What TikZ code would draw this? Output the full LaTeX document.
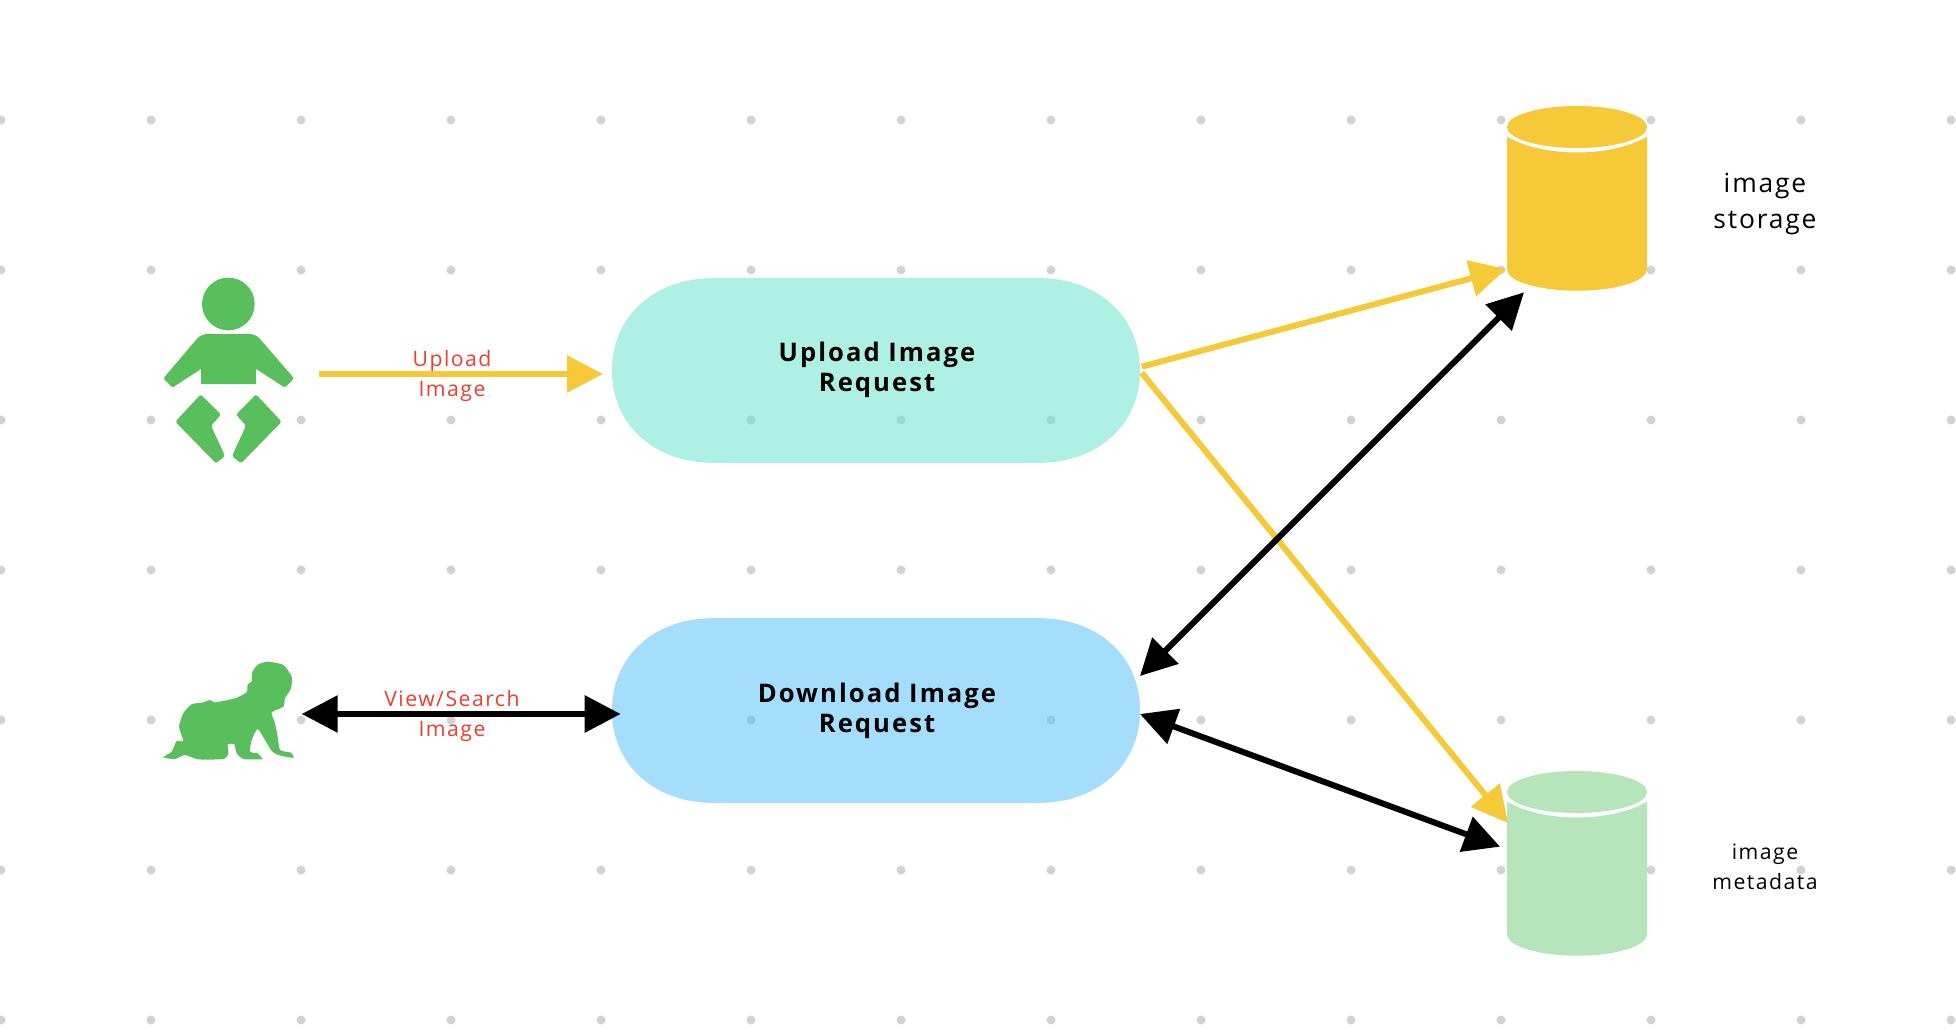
\documentclass[tikz,border=0pt]{standalone}
\usepackage{fontspec}
\usetikzlibrary{arrows.meta}
\setmainfont{Open Sans}
\newfontfamily\pillfont[LetterSpace=8]{Open Sans}
\newfontfamily\redfont[LetterSpace=7]{Open Sans}
\newfontfamily\labfont[LetterSpace=7]{Open Sans}
\definecolor{ygold}{HTML}{F5C937}
\definecolor{mintc}{HTML}{AFF0E4}
\definecolor{bluec}{HTML}{A5DDFC}
\definecolor{greenc}{HTML}{58BF5C}
\definecolor{lgreen}{HTML}{B6E4BB}
\definecolor{dotc}{HTML}{D2D2D2}
\definecolor{redc}{HTML}{EA3F2F}
\definecolor{mintdot}{HTML}{9BDACF}
\definecolor{bluedot}{HTML}{8FC7E6}
\tikzset{
  griddot/.style={fill=dotc},
  yarrow/.style={draw=ygold,line width=3pt,-{Triangle[length=18pt,width=18pt]}},
  barrow/.style={draw=black,line width=3pt,{Triangle[length=18pt,width=18pt]}-{Triangle[length=18pt,width=18pt]}},
  pilltext/.style={inner sep=0pt,minimum width=264pt,minimum height=92pt,align=center,text=black,font=\pillfont\bfseries\fontsize{12.8}{15}\selectfont},
  redlabel/.style={inner sep=0pt,align=center,text=redc,font=\redfont\fontsize{10.6}{15}\selectfont},
  dblabel/.style={inner sep=0pt,align=center,text=black},
}
\newcommand{\pillpath}[2]{%
  \fill[#2,shift={(#1)}] (-264,0) .. controls (-264,-48) and (-232,-80) .. (-190,-89.5)
    .. controls (-176,-92.5) and (-165,-92.5) .. (-150,-92.5) -- (150,-92.5)
    .. controls (165,-92.5) and (176,-92.5) .. (190,-89.5)
    .. controls (232,-80) and (264,-48) .. (264,0)
    .. controls (264,48) and (232,80) .. (190,89.5)
    .. controls (176,92.5) and (165,92.5) .. (150,92.5) -- (-150,92.5)
    .. controls (-165,92.5) and (-176,92.5) .. (-190,89.5)
    .. controls (-232,80) and (-264,48) .. (-264,0) -- cycle;}
\newcommand{\cylpath}[2]{%
  \fill[#2,shift={(0,#1)}] (1507,136.7) .. controls (1525,147) and (1550,152.5) .. (1577,152.5)
    .. controls (1604,152.5) and (1629,147) .. (1647,136.7) -- (1647,269.3)
    .. controls (1647,281) and (1616,290.7) .. (1577,290.7)
    .. controls (1538,290.7) and (1507,281) .. (1507,269.3) -- cycle;
  \fill[#2,shift={(0,#1)}] (1577,127) ellipse [x radius=70,y radius=21];}
\begin{document}
\begin{tikzpicture}[x=0.5pt,y=-0.5pt]
\useasboundingbox (0,0) rectangle (1956,1032);
\fill[white] (0,0) rectangle (1956,1032);
% grid
\foreach \gy in {120,270,420,570,720,870,1020}
  \foreach \gx in {1,151,301,451,601,751,901,1051,1201,1351,1501,1651,1801,1951}
    \fill[griddot] (\gx,\gy) circle [radius=4.5];
% pills
\pillpath{876,370.5}{mintc}
\pillpath{876,710.5}{bluec}
\foreach \gx in {751,901,1051} {
  \fill[mintdot] (\gx,420) circle [radius=4.5];
  \fill[bluedot] (\gx,720) circle [radius=4.5];
}
\node[pilltext] (upload) at (876,370.5) {};
\node[pilltext] (download) at (876,710.5) {};
\node[pilltext,minimum width=0pt,minimum height=0pt] (uploadtxt) at (877,370) {Upload Image\\Request};
\node[pilltext,minimum width=0pt,minimum height=0pt] (downloadtxt) at (877,711) {Download Image\\Request};
% cylinders
\cylpath{0}{ygold}
\cylpath{665}{lgreen}
% baby 1
\begin{scope}[shift={(130,250)},x=0.1667pt,y=-0.1667pt]
  \fill[greenc] (295,162) circle [radius=79];
  \fill[greenc,rounded corners=3pt] (213,252) -- (377,252)
     [rounded corners=0.8pt] -- (492,385) -- (465,413)
     [sharp corners] -- (380,358) -- (378,358) -- (378,402) -- (213,402) -- (213,358) -- (211,358)
     [rounded corners=0.8pt] -- (127,413) -- (100,385)
     [rounded corners=3pt] -- cycle;
  \fill[greenc,rounded corners=1.2pt] (212,433) -- (273,494) -- (243,527) -- (285,618) -- (258,640) -- (136,515) -- cycle;
  \fill[greenc,rounded corners=1.2pt] (378,433) -- (455,515) -- (333,640) -- (306,618) -- (348,527) -- (318,494) -- cycle;
\end{scope}
% baby 2
\begin{scope}[shift={(155,655)},x=0.1667pt,y=-0.1667pt]
  \fill[greenc] plot[smooth cycle,tension=0.35] coordinates {
   (340,20) (385,30) (410,65) (408,100) (390,130) (385,155) (350,172) (360,205) (368,245) (375,285)
   (408,293) (416,308) (398,306) (370,300) (350,288) (330,255) (308,222) (290,255) (285,290)
   (308,295) (322,312) (300,313) (265,312) (245,295) (238,268) (218,268) (220,295) (205,312)
   (130,313) (90,300) (60,312) (25,307) (50,290) (65,258) (85,258) (72,215) (85,175) (110,148)
   (145,142) (165,135) (180,142) (240,130) (275,112) (278,88) (290,80) (292,50) (310,28)};
\end{scope}
% connector ends
\coordinate (upstart) at (319,374);
\coordinate (upend) at (603,374);
\coordinate (viewa) at (301.7,714);
\coordinate (viewb) at (620.7,714);
\coordinate (upa) at (1141.7,366.7);
\coordinate (stin) at (1506,269);
\coordinate (upb) at (1141.7,372.7);
\coordinate (mdin) at (1508,823);
\coordinate (dla) at (1140,676);
\coordinate (stout) at (1524,292.3);
\coordinate (dlb) at (1140,714);
\coordinate (mdout) at (1500,846.7);
% connectors
\draw[yarrow] (upstart) -- (upend);
\draw[yarrow] (upa) -- (stin);
\draw[yarrow] (upb) -- (mdin);
\draw[barrow] (viewa) -- (viewb);
\draw[barrow] (dla) -- (stout);
\draw[barrow] (dlb) -- (mdout);
% labels
\node[redlabel] (uplabel) at (452,375.5) {Upload\\Image};
\node[redlabel] (viewlabel) at (452,715.5) {View/Search\\Image};
\node[dblabel,font=\labfont\fontsize{13.2}{18}\selectfont] (stlabel) at (1765,204) {image\\storage};
\node[dblabel,font=\labfont\fontsize{10.6}{15}\selectfont] (mdlabel) at (1765,867) {image\\metadata};
\end{tikzpicture}
\end{document}
